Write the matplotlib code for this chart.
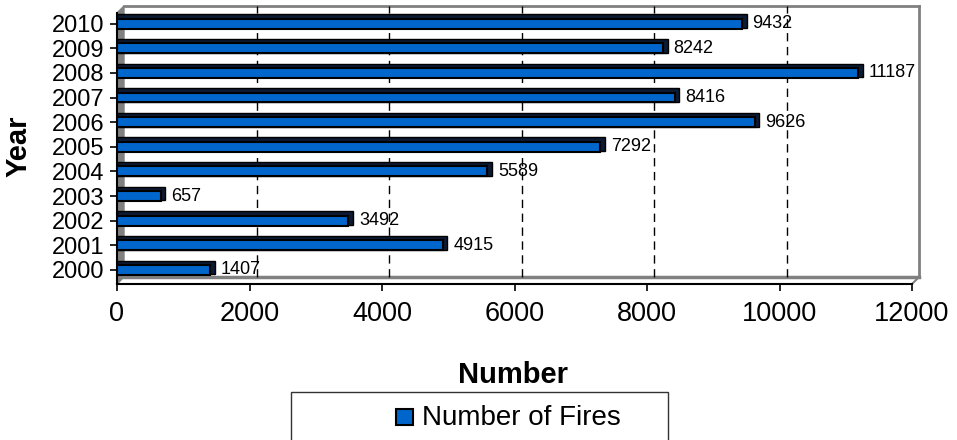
import matplotlib.pyplot as plt
from matplotlib.patches import Rectangle, Polygon
from matplotlib.transforms import Affine2D

plt.rcParams['font.family'] = ['Liberation Sans', 'DejaVu Sans']

years = ["2000", "2001", "2002", "2003", "2004", "2005",
         "2006", "2007", "2008", "2009", "2010"]
fires = [1407, 4915, 3492, 657, 5589, 7292, 9626, 8416, 11187, 8242, 9432]
xticks = [0, 2000, 4000, 6000, 8000, 10000, 12000]
series_name = "Number of Fires"

blue = "#0066CC"
gray = "#808080"

fig = plt.figure(figsize=(9.57, 4.40), dpi=100)
ax = fig.add_axes([117 / 957, 1 - 284 / 440, 795 / 957, 271 / 440])

rows = list(range(len(years)))

# 3D look: dark top/side face behind the blue front face
ax.barh([r + 0.1 for r in rows], [v + 70 for v in fires], height=0.56,
        color="#0d1a33", edgecolor="black", linewidth=1, zorder=3)
ax.barh(rows, fires, height=0.4, color=blue, edgecolor="black",
        linewidth=1.5, zorder=4)

for r, v in zip(rows, fires):
    ax.text(v + 160, r, str(v), va="center", ha="left", fontsize=13, zorder=5)

ax.set_xlim(0, 12000)
ax.set_ylim(-0.57, 10.43)
ax.set_xticks(xticks)
ax.set_yticks(rows)
ax.set_yticklabels(years)
ax.tick_params(axis="x", labelsize=19.5, length=5, width=1.2, pad=7)
ax.tick_params(axis="y", labelsize=17, length=5, width=1.2, pad=4)

for s in ["top", "right"]:
    ax.spines[s].set_visible(False)
for s in ["left", "bottom"]:
    ax.spines[s].set_linewidth(1.5)

# back wall, floor and side wall, offset up and right
back = ax.transAxes + Affine2D().translate(7, 7)
ax.plot([0, 1], [1, 1], transform=back, color=gray, lw=2, clip_on=False)
ax.plot([1, 1], [0, 1], transform=back, color=gray, lw=2, clip_on=False)
ax.plot([0, 1], [0, 0], transform=back, color=gray, lw=2.5, clip_on=False)
dx, dy = 7 / 795, 7 / 271
ax.plot([1, 1 + dx], [0, dy], transform=ax.transAxes, color=gray, lw=1.5,
        clip_on=False)
ax.add_patch(Polygon([(0, 0), (dx, dy), (dx, 1 + dy), (0, 1)], closed=True,
                     transform=ax.transAxes, facecolor=gray, edgecolor=gray,
                     clip_on=False, zorder=1))

grid_tr = ax.get_xaxis_transform() + Affine2D().translate(7, 7)
for x in xticks[1:-1]:
    ax.plot([x, x], [0, 1], transform=grid_tr, color="black", lw=1,
            linestyle=(0, (6, 4)), clip_on=False, zorder=2)

ax.set_ylabel("Year", fontsize=21, fontweight="bold")
ax.yaxis.set_label_coords(-0.106, 0.507)
ax.set_xlabel("Number", fontsize=21, fontweight="bold")
ax.xaxis.set_label_coords(0.498, -0.285)

# legend box (extends past the bottom edge as in the original)
fig.add_artist(Rectangle((291 / 957, -0.05), 377 / 957, 48 / 440 + 0.05,
                         transform=fig.transFigure, fill=False,
                         edgecolor="#333333", lw=1))
fig.add_artist(Rectangle((396 / 957, 1 - 425 / 440), 17 / 957, 16 / 440,
                         transform=fig.transFigure, facecolor=blue,
                         edgecolor="black", lw=1.5))
fig.text(422 / 957, 1 - 425 / 440, series_name, fontsize=20,
         va="baseline", ha="left")

fig.savefig("out.png", dpi=100)
